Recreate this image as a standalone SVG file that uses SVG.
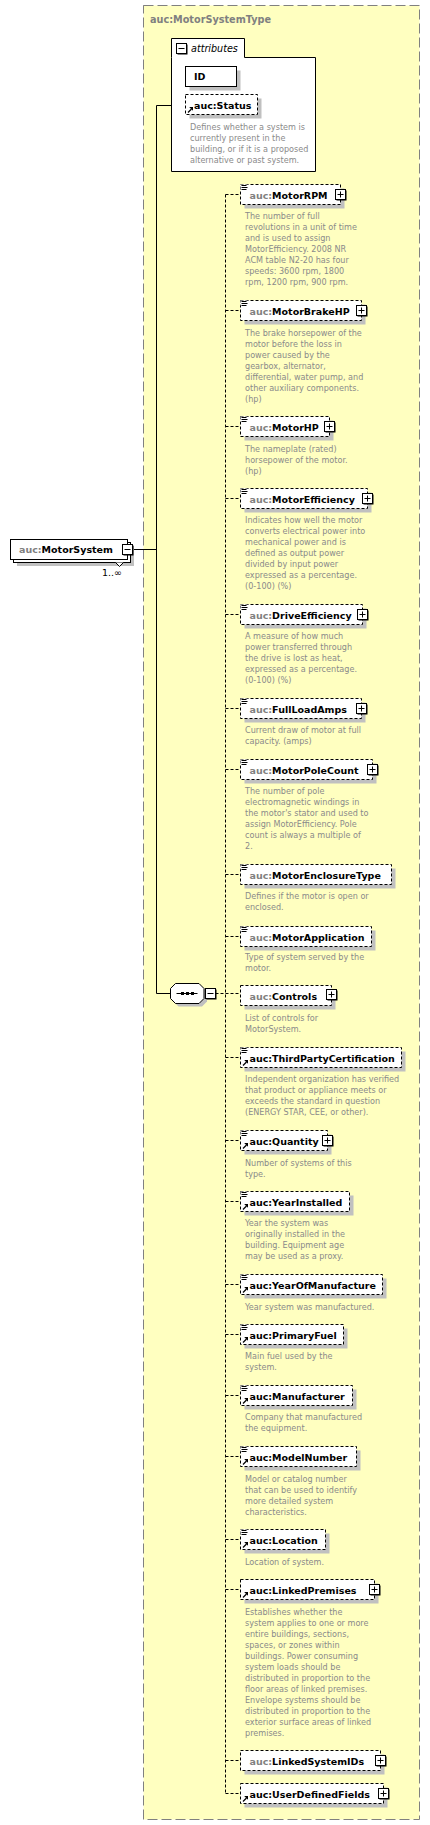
<svg xmlns="http://www.w3.org/2000/svg" xmlns:xlink="http://www.w3.org/1999/xlink" width="430" height="1825" viewBox="0 0 430 1825">
<style>
.lbl{font-family:"DejaVu Sans",sans-serif;font-weight:bold;font-size:9.5px;fill:#000}
.ns{fill:#808080}
.doc{font-family:"DejaVu Sans",sans-serif;font-size:8.1px;fill:#8a8a8a}
.box{fill:#fff;stroke:#000;stroke-width:1}
.opt{fill:#fff;stroke:#000;stroke-width:1;stroke-dasharray:3,2}
.sh{fill:#c0c0c0}
.con{stroke:#000;stroke-width:1;fill:none}
.dcon{stroke:#000;stroke-width:1;fill:none;stroke-dasharray:3,2}
</style>
<defs>
<g id="plus"><rect x="1" y="1" width="10" height="10" fill="#000"/><rect x="0" y="0" width="10" height="10" fill="#fff" stroke="#000"/><path d="M2,5H8M5,2V8" stroke="#000" fill="none"/></g>
<g id="minus"><rect x="1" y="1" width="10" height="10" fill="#000"/><rect x="0" y="0" width="10" height="10" fill="#fff" stroke="#000"/><path d="M2,5H8" stroke="#000" fill="none"/></g>
<g id="doc"><rect x="0.5" y="0.5" width="7" height="5" fill="#fff"/><path d="M1.5,1.5H6.5M1.5,3.5H7.5M1.5,5.5H6.5" stroke="#000" stroke-width="1" fill="none"/></g>
<g id="ref"><rect x="0" y="-8" width="8" height="8" fill="#fff"/><path d="M2,-1.5L5.5,-5" stroke="#000" stroke-width="1.2" fill="none"/><polygon points="7,-7 3.2,-7 7,-3.2" fill="#000"/></g>
</defs>

<g id="complexType">
<rect x="143.5" y="5.5" width="276" height="1814" fill="#ffffc0" stroke="#808080" stroke-width="1" stroke-dasharray="10,4"/>
<text x="150" y="22.5" class="lbl" style="fill:#808080;font-size:9.7px">auc:MotorSystemType</text>
</g>

<g id="connectors">
<path class="con" d="M171.5,105.5H156.5V993.5H170.5"/>
<path class="con" d="M132.5,549.5H156.5"/>
<path class="dcon" d="M225.5,194.5V1793.5"/>
<path class="dcon" d="M215.5,993.5H240.5"/>
<path class="dcon" d="M225.5,194.5H240.5M225.5,310.5H240.5M225.5,426.5H240.5M225.5,498.5H240.5M225.5,614.5H240.5M225.5,708.5H240.5M225.5,769.5H240.5M225.5,874.5H240.5M225.5,936.5H240.5M225.5,1057.5H240.5M225.5,1140.5H240.5M225.5,1201.5H240.5M225.5,1284.5H240.5M225.5,1334.5H240.5M225.5,1395.5H240.5M225.5,1456.5H240.5M225.5,1539.5H240.5M225.5,1589.5H240.5M225.5,1760.5H240.5M225.5,1793.5H240.5"/>
</g>

<g id="MotorSystem">
<rect class="sh" x="17" y="546" width="117" height="20"/>
<rect class="box" x="13.5" y="542.5" width="117" height="20"/>
<rect class="box" x="10.5" y="539.5" width="117" height="20"/>
<polyline points="115.5,562.5 119.5,566.5 123.5,562.5" fill="#fff" stroke="#000"/>
<text x="19" y="553" class="lbl"><tspan class="ns">auc:</tspan>MotorSystem</text>
<use xlink:href="#minus" x="122.5" y="544.5"/>
<text x="102" y="575.5" style="font-family:'DejaVu Sans',sans-serif;font-size:9.5px;fill:#000">1..∞</text>
</g>

<g id="attributes">
<path d="M171.5,57.5V38.5H244.5V57.5H315.5V171.5H171.5Z" fill="#fff" stroke="#000"/>
<use xlink:href="#minus" x="176.5" y="43.5"/>
<text x="191" y="51.5" style="font-family:'DejaVu Sans',sans-serif;font-style:italic;font-size:9.6px;fill:#000">attributes</text>
</g>

<g id="ID">
<rect class="sh" x="189.5" y="70.5" width="51" height="20"/>
<rect class="box" x="185.5" y="66.5" width="51" height="20"/>
<text x="194" y="80" class="lbl">ID</text>
</g>

<g id="Status">
<rect class="sh" x="189.5" y="98.5" width="72" height="20"/>
<rect class="opt" x="185.5" y="94.5" width="72" height="20"/>
<use xlink:href="#ref" x="186" y="114"/>
<text x="194" y="108.5" class="lbl">auc:Status</text>
<text class="doc" x="190" y="130">Defines whether a system is<tspan x="190" dy="11">currently present in the</tspan><tspan x="190" dy="11">building, or if it is a proposed</tspan><tspan x="190" dy="11">alternative or past system.</tspan></text>
</g>

<g id="sequence">
<polygon class="sh" points="178.5,986.5 202,986.5 207,991.5 207,1001.5 202,1006.5 178.5,1006.5 173.5,1001.5 173.5,991.5"/>
<polygon points="175.5,983.5 199,983.5 204,988.5 204,998.5 199,1003.5 175.5,1003.5 170.5,998.5 170.5,988.5" fill="#fff" stroke="#000"/>
<path d="M176.5,993.5H197.5" stroke="#000"/>
<rect x="181" y="992" width="3" height="3" fill="#000"/>
<rect x="186" y="992" width="3" height="3" fill="#000"/>
<rect x="191" y="992" width="3" height="3" fill="#000"/>
<use xlink:href="#minus" x="205.5" y="988.5"/>
</g>

<g id="MotorRPM">
<rect class="sh" x="244.5" y="188.5" width="100" height="20"/>
<rect class="opt" x="240.5" y="184.5" width="100" height="20"/>
<use xlink:href="#doc" x="240" y="184"/>
<text x="249.5" y="199" class="lbl"><tspan class="ns">auc:</tspan>MotorRPM</text>
<use xlink:href="#plus" x="335.5" y="189.5"/>
<text class="doc" x="245" y="219.3">The number of full<tspan x="245" dy="11">revolutions in a unit of time</tspan><tspan x="245" dy="11">and is used to assign</tspan><tspan x="245" dy="11">MotorEfficiency. 2008 NR</tspan><tspan x="245" dy="11">ACM table N2-20 has four</tspan><tspan x="245" dy="11">speeds: 3600 rpm, 1800</tspan><tspan x="245" dy="11">rpm, 1200 rpm, 900 rpm.</tspan></text>
</g>

<g id="MotorBrakeHP">
<rect class="sh" x="244.5" y="304.5" width="121" height="20"/>
<rect class="opt" x="240.5" y="300.5" width="121" height="20"/>
<use xlink:href="#doc" x="240" y="300"/>
<text x="249.5" y="315" class="lbl"><tspan class="ns">auc:</tspan>MotorBrakeHP</text>
<use xlink:href="#plus" x="356.5" y="305.5"/>
<text class="doc" x="245" y="336">The brake horsepower of the<tspan x="245" dy="11">motor before the loss in</tspan><tspan x="245" dy="11">power caused by the</tspan><tspan x="245" dy="11">gearbox, alternator,</tspan><tspan x="245" dy="11">differential, water pump, and</tspan><tspan x="245" dy="11">other auxiliary components.</tspan><tspan x="245" dy="11">(hp)</tspan></text>
</g>

<g id="MotorHP">
<rect class="sh" x="244.5" y="420.5" width="89" height="20"/>
<rect class="opt" x="240.5" y="416.5" width="89" height="20"/>
<use xlink:href="#doc" x="240" y="416"/>
<text x="249.5" y="431" class="lbl"><tspan class="ns">auc:</tspan>MotorHP</text>
<use xlink:href="#plus" x="324.5" y="421.5"/>
<text class="doc" x="245" y="451.7">The nameplate (rated)<tspan x="245" dy="11">horsepower of the motor.</tspan><tspan x="245" dy="11">(hp)</tspan></text>
</g>

<g id="MotorEfficiency">
<rect class="sh" x="244.5" y="492.5" width="127" height="20"/>
<rect class="opt" x="240.5" y="488.5" width="127" height="20"/>
<use xlink:href="#doc" x="240" y="488"/>
<text x="249.5" y="503" class="lbl"><tspan class="ns">auc:</tspan>MotorEfficiency</text>
<use xlink:href="#plus" x="362.5" y="493.5"/>
<text class="doc" x="245" y="523.3">Indicates how well the motor<tspan x="245" dy="11">converts electrical power into</tspan><tspan x="245" dy="11">mechanical power and is</tspan><tspan x="245" dy="11">defined as output power</tspan><tspan x="245" dy="11">divided by input power</tspan><tspan x="245" dy="11">expressed as a percentage.</tspan><tspan x="245" dy="11">(0-100) (%)</tspan></text>
</g>

<g id="DriveEfficiency">
<rect class="sh" x="244.5" y="608.5" width="122" height="20"/>
<rect class="opt" x="240.5" y="604.5" width="122" height="20"/>
<use xlink:href="#doc" x="240" y="604"/>
<text x="249.5" y="619" class="lbl"><tspan class="ns">auc:</tspan>DriveEfficiency</text>
<use xlink:href="#plus" x="357.5" y="609.5"/>
<text class="doc" x="245" y="639.3">A measure of how much<tspan x="245" dy="11">power transferred through</tspan><tspan x="245" dy="11">the drive is lost as heat,</tspan><tspan x="245" dy="11">expressed as a percentage.</tspan><tspan x="245" dy="11">(0-100) (%)</tspan></text>
</g>

<g id="FullLoadAmps">
<rect class="sh" x="244.5" y="702.5" width="121" height="20"/>
<rect class="opt" x="240.5" y="698.5" width="121" height="20"/>
<use xlink:href="#doc" x="240" y="698"/>
<text x="249.5" y="713" class="lbl"><tspan class="ns">auc:</tspan>FullLoadAmps</text>
<use xlink:href="#plus" x="356.5" y="703.5"/>
<text class="doc" x="245" y="732.7">Current draw of motor at full<tspan x="245" dy="11">capacity. (amps)</tspan></text>
</g>

<g id="MotorPoleCount">
<rect class="sh" x="244.5" y="763.5" width="132" height="20"/>
<rect class="opt" x="240.5" y="759.5" width="132" height="20"/>
<use xlink:href="#doc" x="240" y="759"/>
<text x="249.5" y="774" class="lbl"><tspan class="ns">auc:</tspan>MotorPoleCount</text>
<use xlink:href="#plus" x="367.5" y="764.5"/>
<text class="doc" x="245" y="794.3">The number of pole<tspan x="245" dy="11">electromagnetic windings in</tspan><tspan x="245" dy="11">the motor's stator and used to</tspan><tspan x="245" dy="11">assign MotorEfficiency. Pole</tspan><tspan x="245" dy="11">count is always a multiple of</tspan><tspan x="245" dy="11">2.</tspan></text>
</g>

<g id="MotorEnclosureType">
<rect class="sh" x="244.5" y="868.5" width="151" height="20"/>
<rect class="opt" x="240.5" y="864.5" width="151" height="20"/>
<use xlink:href="#doc" x="240" y="864"/>
<text x="249.5" y="879" class="lbl"><tspan class="ns">auc:</tspan>MotorEnclosureType</text>
<text class="doc" x="245" y="899.3">Defines if the motor is open or<tspan x="245" dy="11">enclosed.</tspan></text>
</g>

<g id="MotorApplication">
<rect class="sh" x="244.5" y="930.5" width="131" height="20"/>
<rect class="opt" x="240.5" y="926.5" width="131" height="20"/>
<use xlink:href="#doc" x="240" y="926"/>
<text x="249.5" y="941" class="lbl"><tspan class="ns">auc:</tspan>MotorApplication</text>
<text class="doc" x="245" y="960.3">Type of system served by the<tspan x="245" dy="11">motor.</tspan></text>
</g>

<g id="Controls">
<rect class="sh" x="244.5" y="989.5" width="91" height="20"/>
<rect class="opt" x="240.5" y="985.5" width="91" height="20"/>
<text x="249.5" y="1000" class="lbl"><tspan class="ns">auc:</tspan>Controls</text>
<use xlink:href="#plus" x="326.5" y="989.5"/>
<text class="doc" x="245" y="1020.7">List of controls for<tspan x="245" dy="11">MotorSystem.</tspan></text>
</g>

<g id="ThirdPartyCertification">
<rect class="sh" x="244.5" y="1051.5" width="161" height="20"/>
<rect class="opt" x="240.5" y="1047.5" width="161" height="20"/>
<use xlink:href="#doc" x="240" y="1047"/>
<use xlink:href="#ref" x="241" y="1067"/>
<text x="249.5" y="1062" class="lbl">auc:ThirdPartyCertification</text>
<text class="doc" x="245" y="1082.3">Independent organization has verified<tspan x="245" dy="11">that product or appliance meets or</tspan><tspan x="245" dy="11">exceeds the standard in question</tspan><tspan x="245" dy="11">(ENERGY STAR, CEE, or other).</tspan></text>
</g>

<g id="Quantity">
<rect class="sh" x="244.5" y="1134.5" width="87" height="20"/>
<rect class="opt" x="240.5" y="1130.5" width="87" height="20"/>
<use xlink:href="#doc" x="240" y="1130"/>
<use xlink:href="#ref" x="241" y="1150"/>
<text x="249.5" y="1145" class="lbl">auc:Quantity</text>
<use xlink:href="#plus" x="322.5" y="1135.5"/>
<text class="doc" x="245" y="1165.7">Number of systems of this<tspan x="245" dy="11">type.</tspan></text>
</g>

<g id="YearInstalled">
<rect class="sh" x="244.5" y="1195.5" width="109" height="20"/>
<rect class="opt" x="240.5" y="1191.5" width="109" height="20"/>
<use xlink:href="#doc" x="240" y="1191"/>
<use xlink:href="#ref" x="241" y="1211"/>
<text x="249.5" y="1206" class="lbl">auc:YearInstalled</text>
<text class="doc" x="245" y="1226.3">Year the system was<tspan x="245" dy="11">originally installed in the</tspan><tspan x="245" dy="11">building. Equipment age</tspan><tspan x="245" dy="11">may be used as a proxy.</tspan></text>
</g>

<g id="YearOfManufacture">
<rect class="sh" x="244.5" y="1278.5" width="142" height="20"/>
<rect class="opt" x="240.5" y="1274.5" width="142" height="20"/>
<use xlink:href="#doc" x="240" y="1274"/>
<use xlink:href="#ref" x="241" y="1294"/>
<text x="249.5" y="1289" class="lbl">auc:YearOfManufacture</text>
<text class="doc" x="245" y="1309.7">Year system was manufactured.</text>
</g>

<g id="PrimaryFuel">
<rect class="sh" x="244.5" y="1328.5" width="103" height="20"/>
<rect class="opt" x="240.5" y="1324.5" width="103" height="20"/>
<use xlink:href="#doc" x="240" y="1324"/>
<use xlink:href="#ref" x="241" y="1344"/>
<text x="249.5" y="1339" class="lbl">auc:PrimaryFuel</text>
<text class="doc" x="245" y="1359.3">Main fuel used by the<tspan x="245" dy="11">system.</tspan></text>
</g>

<g id="Manufacturer">
<rect class="sh" x="244.5" y="1389.5" width="112" height="20"/>
<rect class="opt" x="240.5" y="1385.5" width="112" height="20"/>
<use xlink:href="#doc" x="240" y="1385"/>
<use xlink:href="#ref" x="241" y="1405"/>
<text x="249.5" y="1400" class="lbl">auc:Manufacturer</text>
<text class="doc" x="245" y="1420.3">Company that manufactured<tspan x="245" dy="11">the equipment.</tspan></text>
</g>

<g id="ModelNumber">
<rect class="sh" x="244.5" y="1450.5" width="116" height="20"/>
<rect class="opt" x="240.5" y="1446.5" width="116" height="20"/>
<use xlink:href="#doc" x="240" y="1446"/>
<use xlink:href="#ref" x="241" y="1466"/>
<text x="249.5" y="1461" class="lbl">auc:ModelNumber</text>
<text class="doc" x="245" y="1481.7">Model or catalog number<tspan x="245" dy="11">that can be used to identify</tspan><tspan x="245" dy="11">more detailed system</tspan><tspan x="245" dy="11">characteristics.</tspan></text>
</g>

<g id="Location">
<rect class="sh" x="244.5" y="1533.5" width="85" height="20"/>
<rect class="opt" x="240.5" y="1529.5" width="85" height="20"/>
<use xlink:href="#doc" x="240" y="1529"/>
<use xlink:href="#ref" x="241" y="1549"/>
<text x="249.5" y="1544" class="lbl">auc:Location</text>
<text class="doc" x="245" y="1564.7">Location of system.</text>
</g>

<g id="LinkedPremises">
<rect class="sh" x="244.5" y="1583.5" width="134" height="20"/>
<rect class="opt" x="240.5" y="1579.5" width="134" height="20"/>
<use xlink:href="#ref" x="241" y="1599"/>
<text x="249.5" y="1594" class="lbl">auc:LinkedPremises</text>
<use xlink:href="#plus" x="369.5" y="1584.5"/>
<text class="doc" x="245" y="1614.7">Establishes whether the<tspan x="245" dy="11">system applies to one or more</tspan><tspan x="245" dy="11">entire buildings, sections,</tspan><tspan x="245" dy="11">spaces, or zones within</tspan><tspan x="245" dy="11">buildings. Power consuming</tspan><tspan x="245" dy="11">system loads should be</tspan><tspan x="245" dy="11">distributed in proportion to the</tspan><tspan x="245" dy="11">floor areas of linked premises.</tspan><tspan x="245" dy="11">Envelope systems should be</tspan><tspan x="245" dy="11">distributed in proportion to the</tspan><tspan x="245" dy="11">exterior surface areas of linked</tspan><tspan x="245" dy="11">premises.</tspan></text>
</g>

<g id="LinkedSystemIDs">
<rect class="sh" x="244.5" y="1754.5" width="140" height="20"/>
<rect class="opt" x="240.5" y="1750.5" width="140" height="20"/>
<text x="249.5" y="1765" class="lbl"><tspan class="ns">auc:</tspan>LinkedSystemIDs</text>
<use xlink:href="#plus" x="375.5" y="1755.5"/>
</g>

<g id="UserDefinedFields">
<rect class="sh" x="244.5" y="1787.5" width="143" height="20"/>
<rect class="opt" x="240.5" y="1783.5" width="143" height="20"/>
<use xlink:href="#ref" x="241" y="1803"/>
<text x="249.5" y="1798" class="lbl">auc:UserDefinedFields</text>
<use xlink:href="#plus" x="378.5" y="1788.5"/>
</g>
</svg>
